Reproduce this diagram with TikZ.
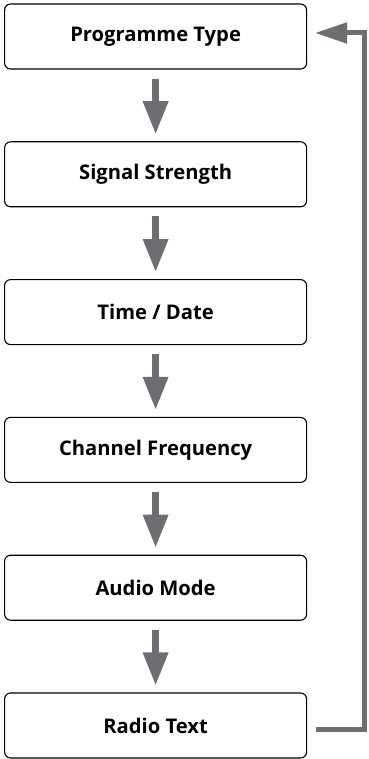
\documentclass[tikz,border=0pt]{standalone}
\usepackage{fontspec}
\setmainfont{Open Sans}
\usetikzlibrary{positioning}
\usetikzlibrary{arrows.meta}
\definecolor{arrowgray}{HTML}{6D6E71}
\tikzstyle{block} = [rectangle, draw, line width=1.1pt, rounded corners=6pt,
    minimum width=302pt, minimum height=65pt, text centered,
    font=\bfseries\fontsize{20.2}{24}\selectfont]
\tikzstyle{line} = [draw, arrowgray, line width=6.5pt,
    -{Triangle[length=33pt,width=24pt]}, shorten <=9pt, shorten >=7pt]
\tikzstyle{back} = [draw, arrowgray, line width=5pt,
    -{Triangle[length=32pt,width=20pt]}]

\begin{document}
\begin{tikzpicture}[node distance = 137.8pt, auto]
        \useasboundingbox (0,0) rectangle (368pt,-759pt);
        \node [block] (ptype) at (155.6pt,-36.5pt) {Programme Type};
        \node [block, below of=ptype] (signal) {Signal Strength};
        \node [block, below of=signal] (date) {Time / Date};
        \node [block, below of=date] (freq) {Channel Frequency};
        \node [block, below of=freq] (audio) {Audio Mode};
        \node [block, below of=audio] (radio) {Radio Text};
        \coordinate (looptop) at (364.5pt,-33pt);
        \coordinate (backtip) at (315pt,-33pt);
        % edges
        \path [line] (ptype) -- (signal);
        \path [line] (signal) -- (date);
        \path [line] (date) -- (freq);
        \path [line] (freq) -- (audio);
        \path [line] (audio) -- (radio);
        \path [back] ([xshift=9pt,yshift=-3.5pt]radio.east) -| (looptop) -- (backtip);
    \end{tikzpicture}
\end{document}
